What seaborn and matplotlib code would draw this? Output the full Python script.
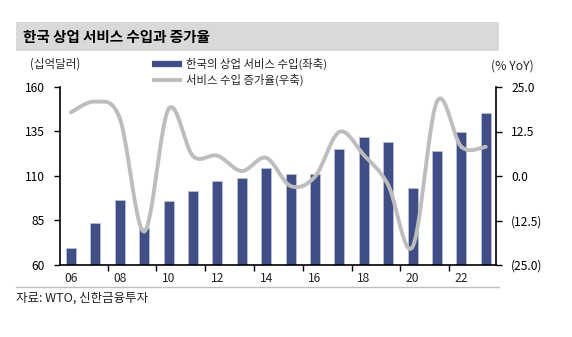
import numpy as np
import pandas as pd
import matplotlib
matplotlib.use("Agg")
import matplotlib.pyplot as plt
import seaborn as sns
from matplotlib.lines import Line2D
from matplotlib.ticker import FuncFormatter

years = list(range(2006, 2024))
exports = [69.4, 83.8, 96.5, 80.9, 96.0, 101.6, 107.4, 108.7, 114.3, 111.0,
           111.0, 125.0, 131.7, 129.1, 103.1, 124.0, 134.6, 145.6]
growth = [17.9, 20.9, 16.2, -15.6, 18.8, 5.6, 5.7, 1.4, 5.1, -2.8,
          -0.2, 12.4, 5.9, -2.5, -19.9, 20.9, 8.2, 8.2]
xlabels = ["06", "08", "10", "12", "14", "16", "18", "20", "22"]
title = "한국 상업 서비스 수입과 증가율"
bar_label = "한국의 상업 서비스 수입(좌축)"
line_label = "서비스 수입 증가율(우축)"
left_unit = "(십억달러)"
right_unit = "(% YoY)"
source = "자료: WTO, 신한금융투자"

sns.set_theme(style="white")
plt.rcParams['font.family'] = ['Noto Sans CJK KR', 'DejaVu Sans']
plt.rcParams['axes.unicode_minus'] = False

BAR = "#3F4E87"
LINE = "#BDBDBD"

df = pd.DataFrame({"year": [str(y) for y in years], "value": exports})

fig = plt.figure(figsize=(5.72, 3.37), dpi=100)
ax = fig.add_axes([60/572, 1-265/337, (496-60)/572, (265-87)/337])

sns.barplot(data=df, x="year", y="value", color=BAR, width=0.41,
            edgecolor="#B8C0DC", linewidth=0.6, saturation=1, ax=ax)
ax.set_ylim(60, 160)
ax.set_yticks([60, 85, 110, 135, 160])
ax.set_xlim(-0.45, 17.42)
ax.set_xlabel("")
ax.set_ylabel("")

ax.set_xticks(np.arange(0, 18, 2))
ax.set_xticklabels(xlabels)
ax.set_xticks(np.arange(1.5, 17, 2), minor=True)
ax.tick_params(axis='x', which='major', length=0, pad=5, labelsize=8.7, colors='#222222')
ax.tick_params(axis='x', which='minor', length=4, width=1, direction='out', color='black', bottom=True)
ax.tick_params(axis='y', which='major', length=4, width=1, direction='out', labelsize=8.7,
               colors='black', left=True, pad=7)
for s in ['top', 'right']:
    ax.spines[s].set_visible(False)
for s in ['left', 'bottom']:
    ax.spines[s].set_color('black')
    ax.spines[s].set_linewidth(1.2)

ax2 = ax.twinx()
# Catmull-Rom smoothing for rendering (Excel-style smoothed line)
xs = np.arange(len(growth), dtype=float)
ys = np.array(growth, dtype=float)
px = np.concatenate([[xs[0]], xs, [xs[-1]]])
py = np.concatenate([[ys[0]], ys, [ys[-1]]])
sx, sy = [], []
t = np.linspace(0, 1, 30)
for i in range(1, len(px) - 2):
    p0x, p1x, p2x, p3x = px[i-1], px[i], px[i+1], px[i+2]
    p0y, p1y, p2y, p3y = py[i-1], py[i], py[i+1], py[i+2]
    for (a0, a1, a2, a3, out) in ((p0x, p1x, p2x, p3x, sx), (p0y, p1y, p2y, p3y, sy)):
        out.extend(0.5 * ((2*a1) + (-a0 + a2)*t + (2*a0 - 5*a1 + 4*a2 - a3)*t**2
                          + (-a0 + 3*a1 - 3*a2 + a3)*t**3))
ax2.plot(sx, sy, color=LINE, lw=2.8, solid_capstyle='round')
ax2.set_ylim(-25, 25)
ax2.set_yticks([-25, -12.5, 0, 12.5, 25])
ax2.yaxis.set_major_formatter(FuncFormatter(lambda v, p: f"({abs(v):.1f})" if v < 0 else f"{v:.1f}"))
ax2.tick_params(axis='y', which='major', length=4, width=1, direction='out', labelsize=8.7,
                colors='black', right=True, pad=7)
for s in ['top', 'left', 'bottom']:
    ax2.spines[s].set_visible(False)
ax2.spines['right'].set_color('black')
ax2.spines['right'].set_linewidth(1.2)
ax2.grid(False)
ax.grid(False)

# title band
fig.patches.append(plt.Rectangle((16/572, 1-51/337), (499-16)/572, 29/337,
                                 transform=fig.transFigure, facecolor='#D9D9D9',
                                 edgecolor='none', zorder=0))
fig.text(23/572, 1-37/337, title, fontsize=10.5, fontweight='bold', va='center', ha='left',
         color='black')

fig.text(30/572, 1-64/337, left_unit, fontsize=8.3, va='center', ha='left')
fig.text(534/572, 1-66/337, right_unit, fontsize=8.8, va='center', ha='right')

handles = [Line2D([0], [0], color=BAR, lw=4.5, solid_capstyle='butt'),
           Line2D([0], [0], color=LINE, lw=2.8, solid_capstyle='butt')]
fig.legend(handles, [bar_label, line_label], loc='upper left',
           bbox_to_anchor=(147/572, 1-53/337), frameon=False, fontsize=8.2,
           handlelength=2.7, handletextpad=0.3, labelspacing=0.4, borderaxespad=0)

fig.add_artist(Line2D([16/572, 499/572], [1-287/337, 1-287/337], transform=fig.transFigure,
                      color='#BFBFBF', lw=1))
fig.text(16/572, 1-298/337, source, fontsize=9, va='center', ha='left', color='#222222')

fig.savefig("out.png", dpi=100)
